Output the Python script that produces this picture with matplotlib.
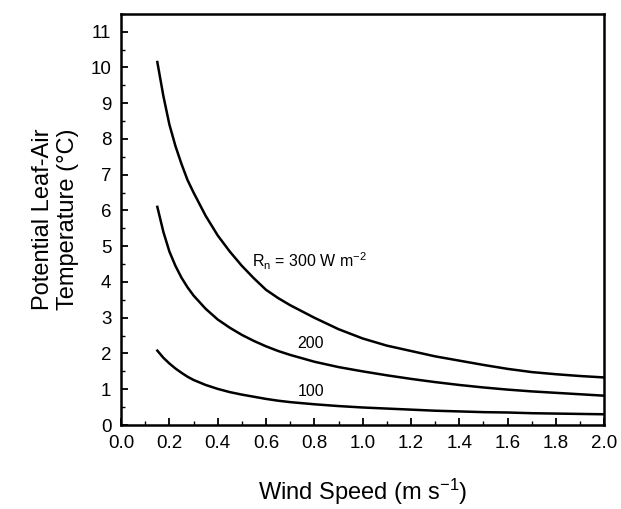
import matplotlib.pyplot as plt
from matplotlib.ticker import MultipleLocator

plt.rcParams['font.family'] = ['Liberation Sans', 'DejaVu Sans']
plt.rcParams['mathtext.fontset'] = 'custom'
plt.rcParams['mathtext.rm'] = 'Liberation Sans'
plt.rcParams['mathtext.it'] = 'Liberation Sans'

# wind speed (m s-1) and potential leaf-air temperature (C)
wind = [0.15, 0.175, 0.2, 0.225, 0.25, 0.275, 0.3, 0.35, 0.4, 0.45, 0.5, 0.55, 0.6, 0.65, 0.7,
        0.8, 0.9, 1.0, 1.1, 1.2, 1.3, 1.4, 1.5, 1.6, 1.7, 1.8, 1.9, 2.0]
rn300 = [10.15, 9.2, 8.4, 7.8, 7.3, 6.85, 6.5, 5.85, 5.3, 4.85, 4.45, 4.1, 3.78, 3.55, 3.35,
         3.0, 2.68, 2.42, 2.22, 2.07, 1.92, 1.8, 1.68, 1.57, 1.48, 1.42, 1.37, 1.33]
rn200 = [6.1, 5.4, 4.85, 4.45, 4.12, 3.85, 3.62, 3.25, 2.95, 2.72, 2.52, 2.35, 2.2, 2.07, 1.96,
         1.77, 1.62, 1.5, 1.39, 1.29, 1.2, 1.12, 1.05, 0.99, 0.94, 0.9, 0.86, 0.82]
rn100 = [2.08, 1.88, 1.72, 1.58, 1.46, 1.35, 1.26, 1.12, 1.01, 0.92, 0.85, 0.79, 0.73, 0.68, 0.64,
         0.58, 0.53, 0.49, 0.46, 0.43, 0.4, 0.38, 0.36, 0.35, 0.33, 0.32, 0.31, 0.3]
xticks = [0.0, 0.2, 0.4, 0.6, 0.8, 1.0, 1.2, 1.4, 1.6, 1.8, 2.0]

fig = plt.figure(figsize=(6.21, 5.09), dpi=100)
ax = fig.add_axes([0.195, 0.165, 0.778, 0.808])

for ys in (rn300, rn200, rn100):
    ax.plot(wind, ys, color='black', lw=1.8, solid_joinstyle='round')

ax.text(0.54, 4.58, r'R$_\mathrm{n}$ = 300 W m$^{\mathrm{-2}}$', fontsize=11.5, va='center')
ax.text(0.73, 2.27, '200', fontsize=11.5, va='center')
ax.text(0.73, 0.93, '100', fontsize=11.5, va='center')

ax.set_xlim(0, 2.0)
ax.set_ylim(0, 11.5)
ax.xaxis.set_minor_locator(MultipleLocator(0.1))
ax.yaxis.set_major_locator(MultipleLocator(1))
ax.yaxis.set_minor_locator(MultipleLocator(0.5))
ax.set_xticks(xticks)
ax.set_xticklabels([f'{v:.1f}' for v in xticks])
ax.tick_params(which='major', direction='in', length=5, width=1.3, labelsize=13.5, pad=7)
ax.tick_params(which='minor', direction='in', length=3, width=1.0)
for s in ax.spines.values():
    s.set_linewidth(1.8)

ax.set_xlabel(r'Wind Speed (m s$^{\mathrm{-1}}$)', fontsize=17, labelpad=18)
ax.set_ylabel('Potential Leaf-Air\nTemperature (°C)', fontsize=17, labelpad=8)

fig.savefig('out.png', dpi=100)
